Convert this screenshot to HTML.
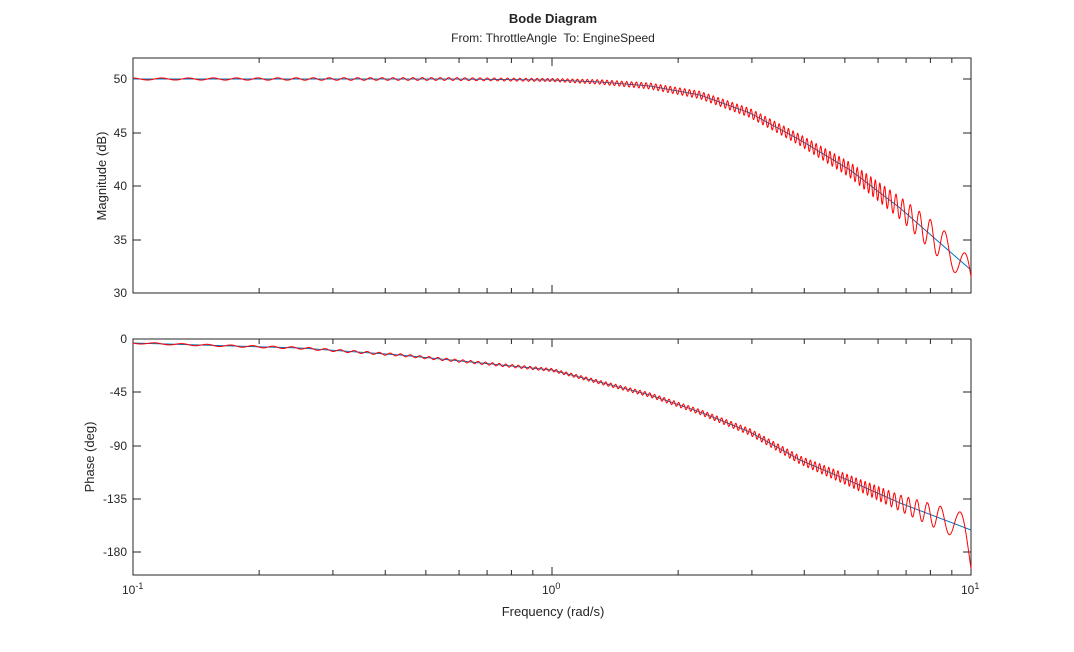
<!DOCTYPE html>
<html><head><meta charset="utf-8"><style>
body{margin:0;background:#fff;}
svg text{font-family:"Liberation Sans",Arial,sans-serif;fill:#262626;}
</style></head><body>
<svg id="s" width="1074" height="647" xmlns="http://www.w3.org/2000/svg">
<rect width="1074" height="647" fill="#fff"/>
<text x="553" y="23" text-anchor="middle" font-size="13" font-weight="bold" fill="#262626">Bode Diagram</text>
<text x="553" y="42" text-anchor="middle" font-size="12" xml:space="preserve">From: ThrottleAngle  To: EngineSpeed</text>
<g id="g"></g>
<text x="106" y="176" font-size="13" text-anchor="middle" transform="rotate(-90 106 176)">Magnitude (dB)</text>
<text x="94" y="457" font-size="13" text-anchor="middle" transform="rotate(-90 94 457)">Phase (deg)</text>
<text x="553" y="616" font-size="13" text-anchor="middle">Frequency (rad/s)</text>
<text x="122" y="594" font-size="12">10<tspan dy="-5" font-size="9">-1</tspan></text>
<text x="542" y="594" font-size="12">10<tspan dy="-5" font-size="9">0</tspan></text>
<text x="961" y="594" font-size="12">10<tspan dy="-5" font-size="9">1</tspan></text>
</svg>
<script>
var g=document.getElementById('g'),h='';
var X0=133,X1=971,T1=58,B1=293,T2=339,B2=575;
function xf(w){return X0+419*Math.log10(w/0.1);}
function interp(pts,x){if(x<=pts[0][0])return pts[0][1];for(var i=1;i<pts.length;i++){if(x<=pts[i][0]){var a=pts[i-1],b=pts[i];return a[1]+(b[1]-a[1])*(x-a[0])/(b[0]-a[0]);}}return pts[pts.length-1][1];}
var mag=[[133,79],[450,79],[552,80],[600,82],[650,86],[700,95],[750,113],[800,140],[850,170],[900,208],[940,243],[971,270]];
var ph=[[133,343],[300,348],[400,355],[552,370],[650,395],[700,412],[750,432],[800,460],[850,481],[900,503],[971,530]];
var per=[[133,30],[400,10],[550,5],[880,4.5],[910,8],[935,13],[950,20],[971,30]];
var am=[[133,1],[550,1.5],[650,3],[750,4.5],[800,5.5],[850,7.5],[900,11],[930,15],[960,17]];
var amp2=[[133,0.8],[550,1.5],[700,2.5],[800,4],[850,5.5],[900,8],[930,11],[960,14]];
function axes(T,B,yt){
 h+='<rect x="'+X0+'" y="'+T+'" width="'+(X1-X0)+'" height="'+(B-T)+'" fill="none" stroke="#262626" stroke-width="1"/>';
 for(var d=-1;d<1;d++)for(var k=1;k<=10;k++){var x=xf(k*Math.pow(10,d));if(x<=X0+0.5||x>=X1-0.5)continue;var L=k==10?8:5;
 h+='<line x1="'+x+'" x2="'+x+'" y1="'+B+'" y2="'+(B-L)+'" stroke="#262626"/><line x1="'+x+'" x2="'+x+'" y1="'+T+'" y2="'+(T+L)+'" stroke="#262626"/>';}
 yt.forEach(function(t){h+='<line x1="'+X0+'" x2="'+(X0+8)+'" y1="'+t[0]+'" y2="'+t[0]+'" stroke="#262626"/><line x1="'+X1+'" x2="'+(X1-8)+'" y1="'+t[0]+'" y2="'+t[0]+'" stroke="#262626"/><text x="'+(X0-6)+'" y="'+(t[0]+4)+'" font-size="12" text-anchor="end">'+t[1]+'</text>';});
}
axes(T1,B1,[[79,'50'],[133,'45'],[186,'40'],[240,'35'],[293,'30']]);
axes(T2,B2,[[339,'0'],[392,'-45'],[446,'-90'],[499,'-135'],[552,'-180']]);
var pb1='',pr1='',pb2='',pr2='',dx=0.25,phs=0;
for(var x=X0;x<=X1+0.01;x+=dx){
 var ym=interp(mag,x),yp=interp(ph,x);
 phs+=2*Math.PI*dx/interp(per,x);
 var rm=ym-interp(am,x)*Math.cos(phs), rp=yp+interp(amp2,x)*Math.sin(phs);
 if(x>960){var t=(x-960)/11;rm+=t*t*18;rp+=t*t*28;}
 if(rm>B1)rm=B1;
 var s=(x==X0?'M':'L')+x.toFixed(2)+' ';
 pb1+=s+ym.toFixed(2);pb2+=s+yp.toFixed(2);pr1+=s+rm.toFixed(2);pr2+=s+rp.toFixed(2);}
h+='<path d="'+pb1+'" fill="none" stroke="#0072BD" stroke-width="1"/>';
h+='<path d="'+pb2+'" fill="none" stroke="#0072BD" stroke-width="1"/>';
h+='<path d="'+pr1+'" fill="none" stroke="#f00" stroke-width="1"/>';
h+='<path d="'+pr2+'" fill="none" stroke="#f00" stroke-width="1"/>';
g.innerHTML=h;
</script>
</body></html>
